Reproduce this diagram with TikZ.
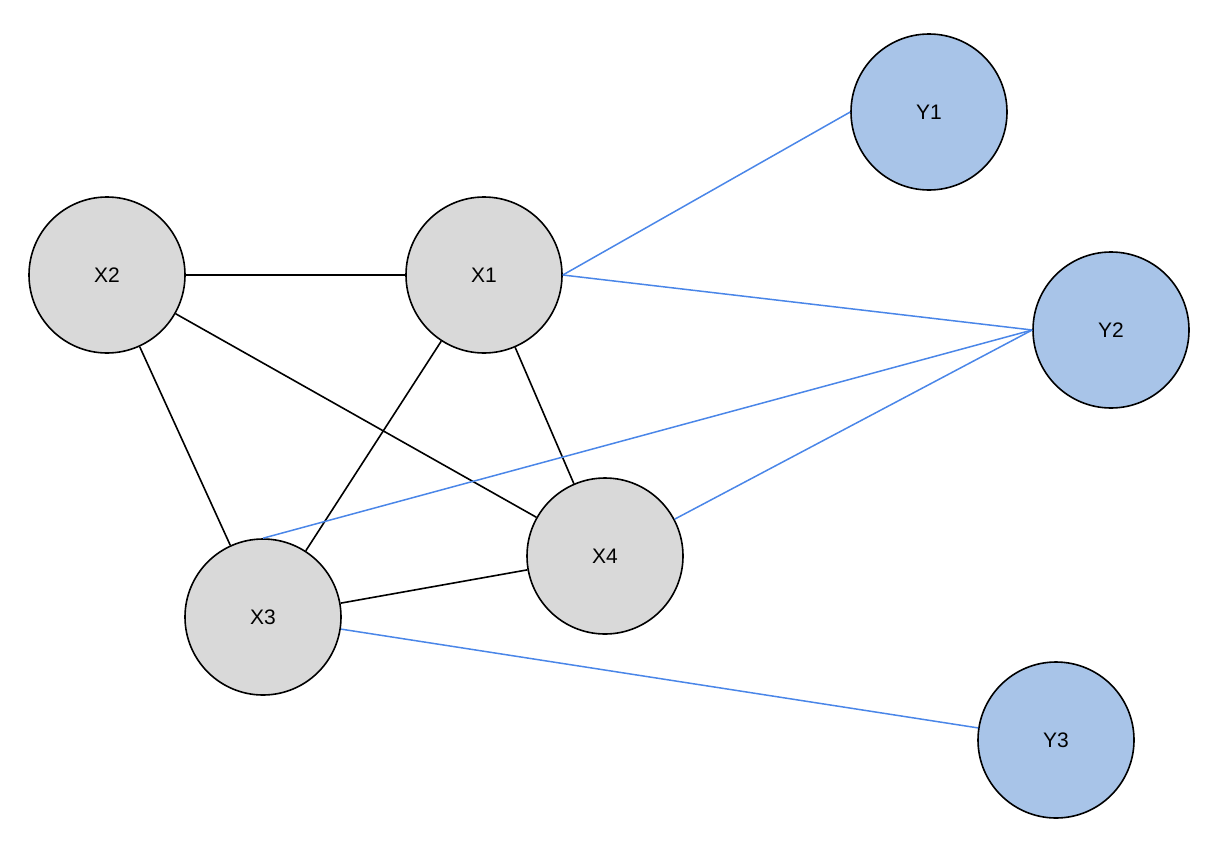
\documentclass[tikz,border=0pt]{standalone}
\usepackage{fontspec}
\setmainfont{Liberation Sans}
\begin{document}
\begin{tikzpicture}[x=1pt,y=-1pt,
  nd/.style={circle,draw=black,line width=1.6pt,minimum size=156pt,inner sep=0pt,font=\fontsize{21}{25}\selectfont},
  xn/.style={nd,fill={rgb,255:red,217;green,217;blue,217}},
  yn/.style={nd,fill={rgb,255:red,168;green,196;blue,232}},
  bl/.style={line width=1.5pt,draw={rgb,255:red,74;green,134;blue,232}},
  kl/.style={line width=1.6pt,draw=black}]
\useasboundingbox (0,0) rectangle (1210,846);
\node[xn] (X2) at (107,275) {X2};
\node[xn] (X1) at (484,275) {X1};
\node[xn] (X3) at (263,617) {X3};
\node[xn] (X4) at (605,556) {X4};
\node[yn] (Y1) at (929,112) {Y1};
\node[yn] (Y2) at (1111,330) {Y2};
\node[yn] (Y3) at (1056,740) {Y3};
\begin{scope}[on background layer/.style={}]
\end{scope}
\draw[kl] (X2) -- (X1);
\draw[kl] (X2) -- (X3);
\draw[kl] (X2) -- (X4);
\draw[kl] (X1) -- (X3);
\draw[kl] (X1) -- (X4);
\draw[kl] (X3) -- (X4);
\draw[bl] (X1.east) -- (Y1.west);
\draw[bl] (X1.east) -- (Y2.west);
\draw[bl] (X3.north) -- (Y2.west);
\draw[bl] (X4) -- (Y2.west);
\draw[bl] (X3) -- (Y3);
\end{tikzpicture}
\end{document}
